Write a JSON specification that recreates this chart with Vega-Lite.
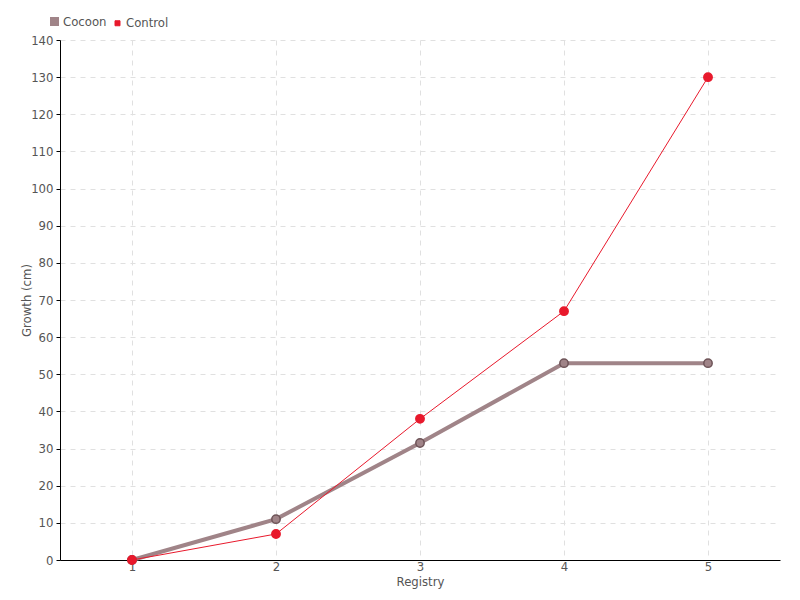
{
  "$schema": "https://vega.github.io/schema/vega-lite/v6.json",
  "width": 720,
  "height": 520,
  "autosize": {"type": "none"},
  "padding": {"left": 60, "top": 40, "right": 20, "bottom": 40},
  "background": "white",
  "config": {
    "font": "DejaVu Sans Condensed",
    "view": {"stroke": null},
    "axis": {"labelColor": "#555", "titleColor": "#555", "labelFont": "DejaVu Sans Condensed", "titleFont": "DejaVu Sans Condensed", "titleFontWeight": "normal", "labelFontSize": 13, "titleFontSize": 13}
  },
  "data": {
    "values": [
      {"registry": 1, "series": "Cocoon", "growth": 0},
      {"registry": 2, "series": "Cocoon", "growth": 11},
      {"registry": 3, "series": "Cocoon", "growth": 31.5},
      {"registry": 4, "series": "Cocoon", "growth": 53},
      {"registry": 5, "series": "Cocoon", "growth": 53},
      {"registry": 1, "series": "Control", "growth": 0},
      {"registry": 2, "series": "Control", "growth": 7},
      {"registry": 3, "series": "Control", "growth": 38},
      {"registry": 4, "series": "Control", "growth": 67},
      {"registry": 5, "series": "Control", "growth": 130}
    ]
  },
  "encoding": {
    "x": {
      "field": "registry", "type": "ordinal",
      "scale": {"type": "point", "padding": 0.5},
      "axis": {"title": "Registry", "labelAngle": 0, "ticks": false, "labelPadding": 0, "titlePadding": 2, "domainColor": "#000", "grid": true, "gridDash": [5, 5], "gridColor": "#e0e0e0"}
    },
    "y": {
      "field": "growth", "type": "quantitative",
      "scale": {"domain": [0, 140], "nice": false},
      "axis": {"title": "Growth (cm)", "values": [0,10,20,30,40,50,60,70,80,90,100,110,120,130,140], "labelOverlap": false, "tickColor": "#000", "tickSize": 4, "domainColor": "#000", "gridDash": [5, 5], "gridColor": "#e0e0e0", "labelPadding": 3, "titlePadding": -3}
    },
    "color": {
      "field": "series", "type": "nominal",
      "scale": {"domain": ["Cocoon", "Control"], "range": ["#a08488", "#e8192c"]},
      "legend": {"title": null, "orient": "none", "legendX": -12, "legendY": -25, "direction": "horizontal", "symbolType": "square", "symbolSize": 25, "labelFontSize": 13, "labelColor": "#555", "labelFont": "DejaVu Sans Condensed", "columnPadding": 4, "symbolOffset": 0, "labelOffset": 2}
    },
    "order": {"field": "series"}
  },
  "layer": [
    {
      "mark": {"type": "line"},
      "encoding": {
        "strokeWidth": {"field": "series", "type": "nominal", "scale": {"domain": ["Cocoon", "Control"], "range": [4, 1]}, "legend": null}
      }
    },
    {
      "mark": {"type": "circle", "opacity": 1, "size": 70},
      "encoding": {
        "stroke": {"field": "series", "type": "nominal", "scale": {"domain": ["Cocoon", "Control"], "range": ["#6e5458", "#e8192c"]}, "legend": null},
        "strokeWidth": {"value": 1.5}
      }
    }
  ]
}
